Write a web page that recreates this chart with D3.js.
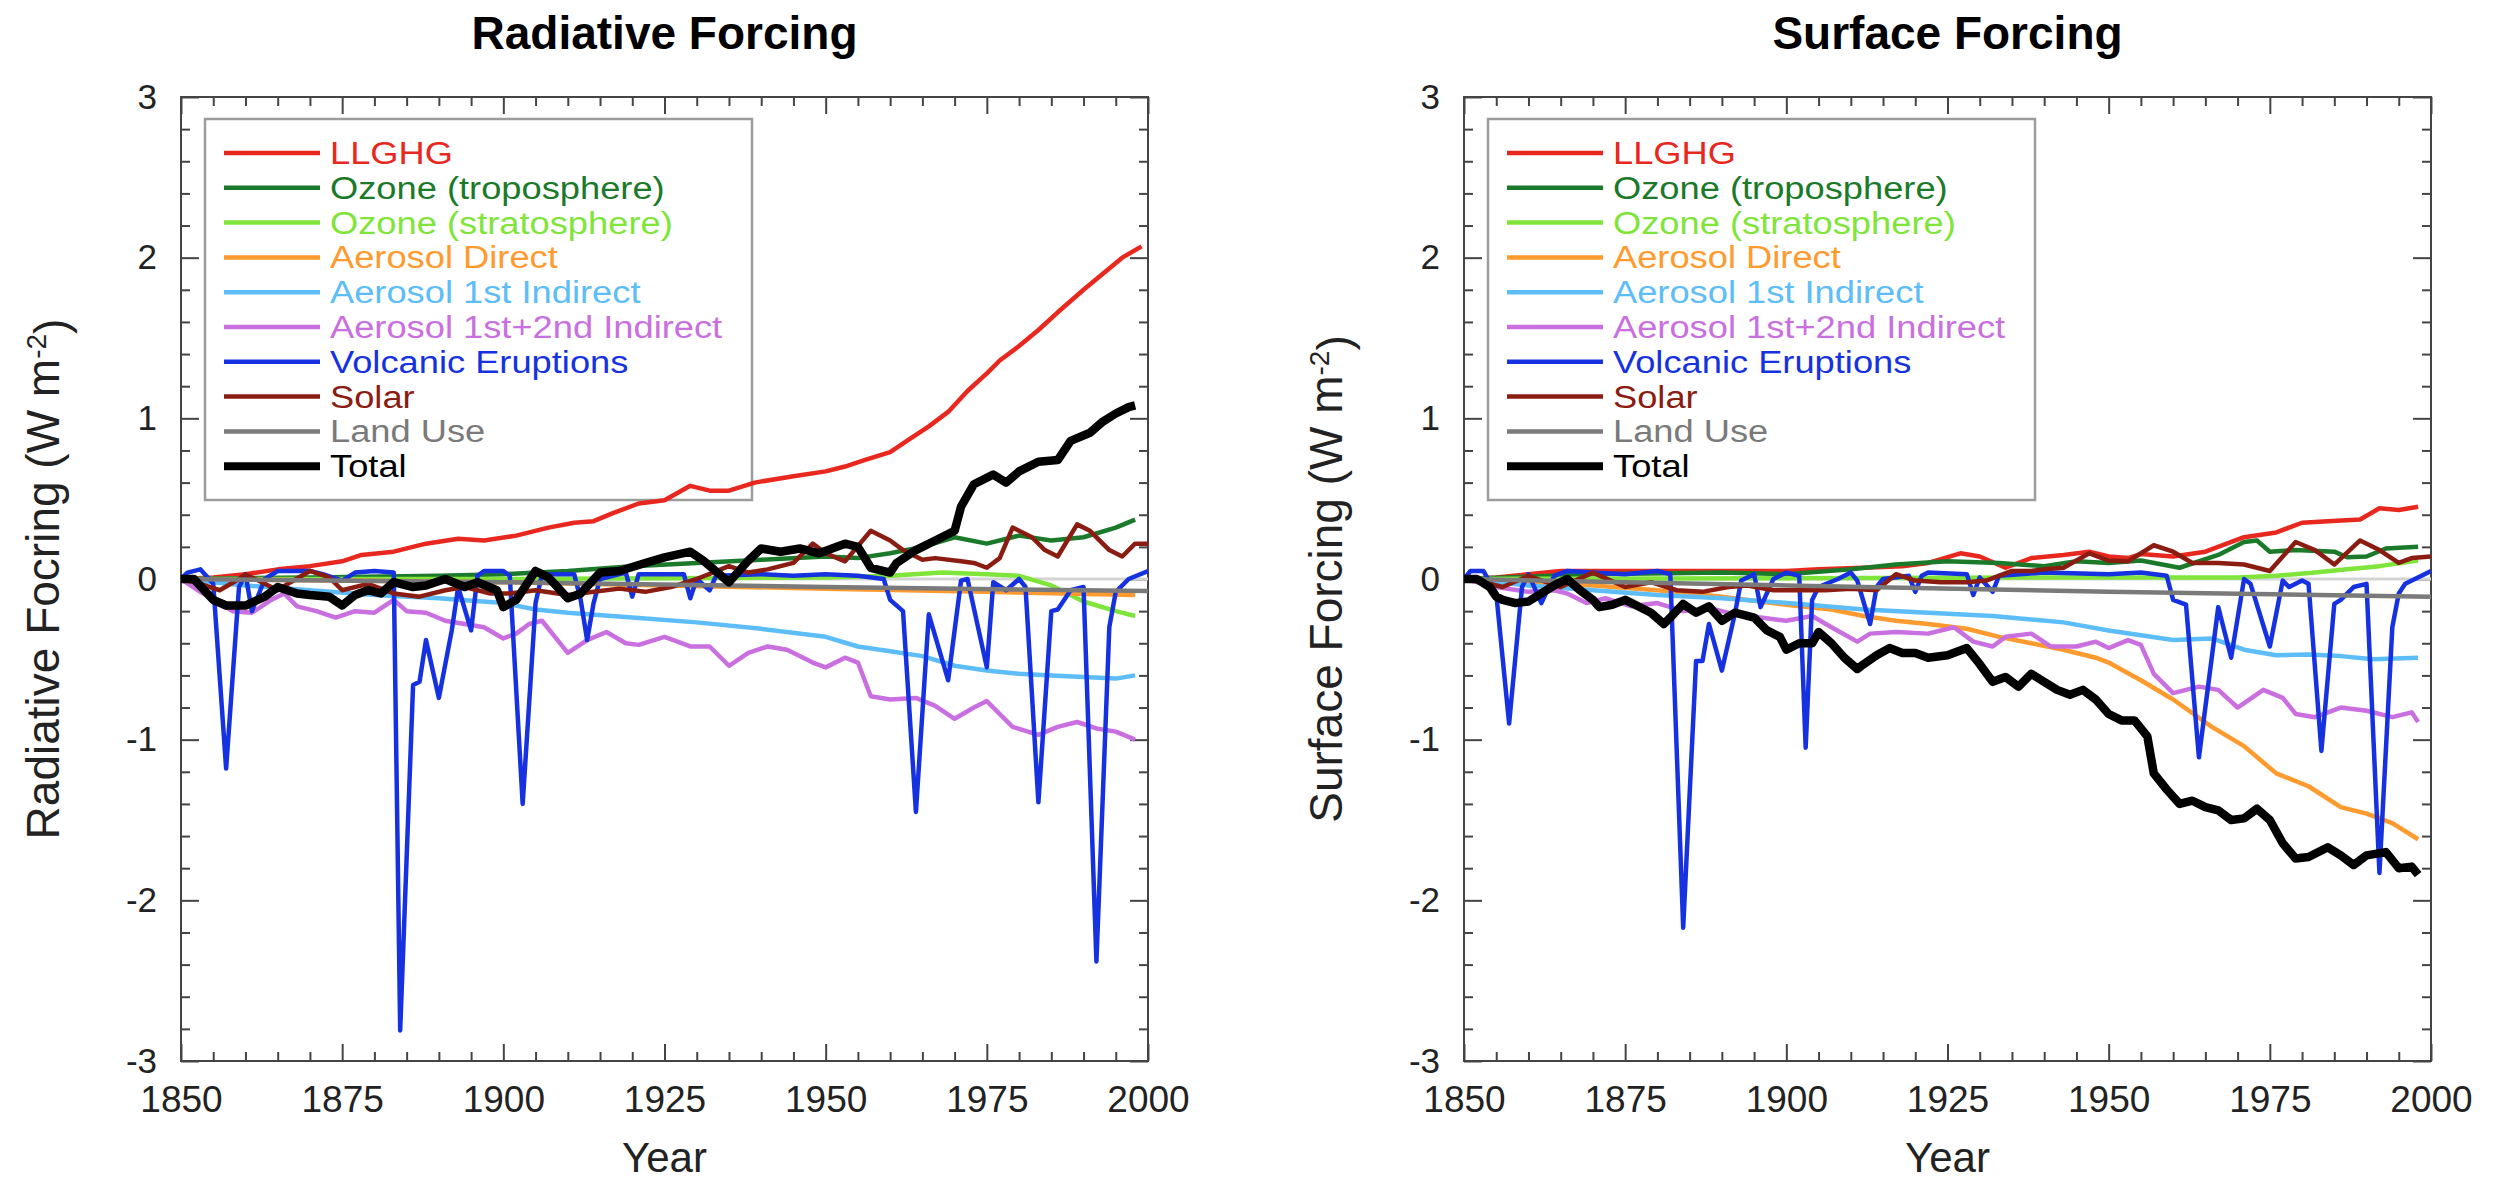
<!DOCTYPE html>
<html>
<head>
<meta charset="utf-8">
<script src="https://cdn.jsdelivr.net/npm/d3@7"></script>
<style>
  body { margin: 0; background: #fff; }
  svg { display: block; font-family: "Liberation Sans", Arial, Helvetica, sans-serif; }
</style>
</head>
<body>
<svg id="chart"></svg>
<script>
// legend labels + colours (same for both panels)
const labels = ["LLGHG", "Ozone (troposphere)", "Ozone (stratosphere)", "Aerosol Direct",
  "Aerosol 1st Indirect", "Aerosol 1st+2nd Indirect", "Volcanic Eruptions", "Solar", "Land Use", "Total"];
const colors = ["#e8281e", "#1b7a2a", "#80e53a", "#ff9a2e", "#5dbdf8", "#c96fe0", "#1632e0", "#8b1c12", "#7a7a7a", "#000000"];

const xTicks = [1850, 1875, 1900, 1925, 1950, 1975, 2000];
const yTicks = [-3, -2, -1, 0, 1, 2, 3];

// ---- Radiative forcing [year, W m-2] ----
const rfLLGHG = [[1850,0],[1855,0.01],[1860,0.03],[1865,0.06],[1870,0.08],[1875,0.11],[1878,0.15],[1883,0.17],[1888,0.22],[1893,0.25],[1897,0.24],[1902,0.27],[1907,0.32],[1911,0.35],[1914,0.36],[1917,0.41],[1921,0.47],[1925,0.49],[1929,0.58],[1932,0.55],[1935,0.55],[1939,0.60],[1945,0.64],[1950,0.67],[1953,0.70],[1956,0.74],[1960,0.79],[1963,0.87],[1966,0.95],[1969,1.04],[1972,1.17],[1975,1.28],[1977,1.36],[1980,1.45],[1983,1.55],[1986,1.66],[1990,1.80],[1993,1.90],[1996,2.00],[1999,2.07]];
const rfOzoneTrop = [[1850,0],[1870,0.01],[1890,0.02],[1900,0.03],[1910,0.05],[1920,0.08],[1930,0.10],[1940,0.12],[1950,0.14],[1955,0.13],[1960,0.16],[1965,0.20],[1970,0.26],[1975,0.22],[1980,0.27],[1985,0.24],[1990,0.26],[1995,0.32],[1998,0.37]];
const rfOzoneStrat = [[1850,0],[1900,0],[1950,0.01],[1960,0.02],[1968,0.04],[1975,0.03],[1980,0.02],[1985,-0.04],[1990,-0.14],[1995,-0.20],[1998,-0.23]];
const rfAeroDirect = [[1850,0],[1875,-0.01],[1900,-0.02],[1925,-0.04],[1950,-0.06],[1975,-0.08],[1998,-0.10]];
const rfAero1st = [[1850,0],[1860,-0.04],[1870,-0.07],[1880,-0.10],[1890,-0.12],[1900,-0.15],[1905,-0.19],[1910,-0.21],[1920,-0.24],[1930,-0.27],[1940,-0.31],[1950,-0.36],[1955,-0.42],[1960,-0.45],[1965,-0.48],[1970,-0.54],[1975,-0.57],[1980,-0.59],[1985,-0.60],[1990,-0.61],[1995,-0.62],[1998,-0.60]];
const rfAero12 = [[1850,0],[1853,-0.08],[1858,-0.20],[1861,-0.21],[1864,-0.13],[1866,-0.09],[1868,-0.17],[1871,-0.20],[1874,-0.24],[1877,-0.20],[1880,-0.21],[1883,-0.13],[1885,-0.20],[1888,-0.21],[1891,-0.26],[1894,-0.28],[1897,-0.30],[1900,-0.37],[1902,-0.34],[1904,-0.28],[1906,-0.26],[1908,-0.36],[1910,-0.46],[1913,-0.38],[1916,-0.33],[1919,-0.40],[1921,-0.41],[1925,-0.36],[1929,-0.42],[1932,-0.42],[1935,-0.54],[1938,-0.46],[1941,-0.42],[1944,-0.44],[1948,-0.52],[1950,-0.55],[1953,-0.49],[1955,-0.52],[1957,-0.73],[1960,-0.75],[1964,-0.74],[1967,-0.79],[1970,-0.87],[1973,-0.80],[1975,-0.76],[1979,-0.92],[1983,-0.97],[1986,-0.92],[1989,-0.89],[1992,-0.93],[1995,-0.95],[1998,-1.00]];
const rfVolcanic = [[1850,0],[1851,0.04],[1853,0.06],[1855,-0.03],[1857,-1.18],[1859,-0.05],[1860,0.03],[1861,-0.20],[1863,0.0],[1865,0.05],[1870,0.05],[1872,0.03],[1875,-0.01],[1877,0.04],[1880,0.05],[1883,0.04],[1884,-2.81],[1886,-0.66],[1887,-0.64],[1888,-0.38],[1890,-0.74],[1892,-0.32],[1893,-0.05],[1895,-0.32],[1896,0.02],[1897,0.05],[1900,0.05],[1901,0.02],[1903,-1.40],[1905,-0.15],[1906,0.03],[1911,0.03],[1912,-0.13],[1913,-0.38],[1914,-0.15],[1915,0.0],[1919,0.04],[1920,-0.11],[1921,0.03],[1928,0.03],[1929,-0.12],[1930,0.0],[1932,-0.07],[1933,0.02],[1940,0.03],[1945,0.02],[1950,0.03],[1955,0.02],[1959,0.0],[1960,-0.13],[1962,-0.20],[1964,-1.45],[1966,-0.22],[1969,-0.63],[1971,-0.01],[1972,0.0],[1975,-0.55],[1976,-0.02],[1978,-0.07],[1980,0.0],[1981,-0.05],[1983,-1.39],[1985,-0.20],[1986,-0.19],[1988,-0.07],[1990,-0.05],[1992,-2.38],[1994,-0.30],[1995,-0.08],[1997,0.0],[2000,0.05]];
const rfSolar = [[1850,0],[1853,-0.03],[1856,-0.07],[1859,0.0],[1860,0.03],[1862,-0.01],[1865,-0.07],[1867,-0.02],[1870,0.05],[1873,0.01],[1875,-0.07],[1879,-0.03],[1883,-0.09],[1887,-0.11],[1891,-0.07],[1894,-0.05],[1898,-0.09],[1901,-0.09],[1905,-0.07],[1910,-0.10],[1914,-0.08],[1918,-0.06],[1922,-0.08],[1926,-0.05],[1930,0.0],[1935,0.08],[1938,0.04],[1941,0.06],[1945,0.10],[1948,0.22],[1950,0.16],[1953,0.11],[1957,0.30],[1960,0.24],[1962,0.18],[1965,0.12],[1967,0.13],[1971,0.11],[1973,0.10],[1975,0.07],[1977,0.13],[1979,0.32],[1982,0.26],[1984,0.18],[1986,0.14],[1989,0.34],[1991,0.30],[1994,0.18],[1996,0.14],[1998,0.22],[2000,0.22]];
const rfLandUse = [[1850,0],[1900,-0.02],[1950,-0.05],[2000,-0.075]];
const rfTotal = [[1850,0],[1852,0],[1855,-0.13],[1857,-0.165],[1860,-0.165],[1863,-0.11],[1865,-0.05],[1868,-0.09],[1870,-0.10],[1873,-0.11],[1875,-0.165],[1877,-0.10],[1879,-0.07],[1881,-0.09],[1883,-0.02],[1886,-0.05],[1888,-0.04],[1891,0.0],[1894,-0.05],[1896,-0.02],[1899,-0.07],[1900,-0.175],[1902,-0.13],[1905,0.05],[1907,0.01],[1910,-0.12],[1912,-0.09],[1915,0.04],[1918,0.05],[1922,0.10],[1925,0.135],[1929,0.17],[1931,0.115],[1935,-0.02],[1938,0.115],[1940,0.19],[1943,0.17],[1946,0.19],[1949,0.16],[1953,0.22],[1955,0.20],[1957,0.07],[1960,0.04],[1961,0.10],[1964,0.18],[1967,0.24],[1970,0.30],[1971,0.45],[1973,0.59],[1976,0.65],[1978,0.60],[1980,0.67],[1983,0.73],[1986,0.74],[1988,0.86],[1991,0.91],[1993,0.98],[1995,1.03],[1997,1.07],[1998,1.08]];

// ---- Surface forcing [year, W m-2] ----
const sfLLGHG = [[1850,0],[1855,0.01],[1860,0.03],[1865,0.05],[1870,0.05],[1880,0.05],[1890,0.05],[1900,0.05],[1905,0.06],[1912,0.07],[1918,0.08],[1922,0.10],[1927,0.16],[1930,0.14],[1934,0.07],[1938,0.13],[1943,0.15],[1947,0.17],[1950,0.14],[1953,0.13],[1955,0.155],[1960,0.14],[1965,0.17],[1971,0.26],[1976,0.29],[1980,0.35],[1984,0.36],[1989,0.37],[1992,0.44],[1995,0.43],[1998,0.45]];
const sfOzoneTrop = [[1850,0],[1870,0.03],[1890,0.04],[1900,0.03],[1910,0.06],[1917,0.09],[1925,0.11],[1933,0.10],[1940,0.08],[1945,0.11],[1950,0.10],[1955,0.115],[1961,0.07],[1967,0.15],[1971,0.23],[1973,0.24],[1975,0.17],[1979,0.18],[1985,0.17],[1987,0.135],[1990,0.14],[1993,0.19],[1998,0.20]];
const sfOzoneStrat = [[1850,0],[1950,0.01],[1970,0.01],[1976,0.02],[1982,0.04],[1987,0.06],[1992,0.08],[1998,0.115]];
const sfAeroDirect = [[1850,0],[1860,-0.02],[1870,-0.04],[1880,-0.07],[1890,-0.11],[1900,-0.16],[1907,-0.19],[1912,-0.23],[1917,-0.26],[1922,-0.28],[1928,-0.31],[1933,-0.36],[1938,-0.40],[1943,-0.44],[1948,-0.49],[1950,-0.52],[1955,-0.63],[1960,-0.75],[1966,-0.92],[1971,-1.04],[1976,-1.21],[1981,-1.29],[1986,-1.42],[1990,-1.46],[1994,-1.52],[1998,-1.62]];
const sfAero1st = [[1850,0],[1860,-0.04],[1870,-0.07],[1880,-0.10],[1890,-0.12],[1902,-0.155],[1912,-0.19],[1922,-0.21],[1932,-0.23],[1943,-0.27],[1950,-0.32],[1960,-0.38],[1966,-0.37],[1971,-0.44],[1976,-0.475],[1981,-0.47],[1986,-0.48],[1991,-0.50],[1998,-0.49]];
const sfAero12 = [[1850,0],[1855,-0.05],[1860,-0.08],[1864,-0.07],[1866,-0.09],[1869,-0.15],[1872,-0.12],[1876,-0.17],[1880,-0.15],[1884,-0.20],[1888,-0.18],[1892,-0.22],[1896,-0.24],[1900,-0.26],[1904,-0.23],[1907,-0.30],[1911,-0.39],[1913,-0.34],[1917,-0.33],[1922,-0.34],[1926,-0.30],[1929,-0.39],[1932,-0.42],[1934,-0.36],[1938,-0.34],[1941,-0.42],[1945,-0.42],[1948,-0.39],[1950,-0.43],[1953,-0.38],[1955,-0.41],[1957,-0.59],[1960,-0.71],[1964,-0.67],[1967,-0.69],[1970,-0.80],[1974,-0.69],[1977,-0.74],[1979,-0.84],[1982,-0.86],[1986,-0.80],[1990,-0.82],[1994,-0.86],[1997,-0.83],[1998,-0.89]];
const sfVolcanic = [[1850,0],[1851,0.05],[1853,0.05],[1855,-0.09],[1857,-0.90],[1859,-0.05],[1860,0.03],[1862,-0.15],[1864,0.02],[1866,0.05],[1870,0.04],[1875,0.03],[1880,0.05],[1882,0.03],[1884,-2.17],[1886,-0.51],[1887,-0.51],[1888,-0.28],[1890,-0.57],[1892,-0.22],[1893,-0.01],[1895,0.03],[1896,-0.175],[1898,0.0],[1900,0.04],[1902,0.02],[1903,-1.05],[1904,-0.13],[1905,-0.05],[1908,0.0],[1910,0.04],[1911,-0.01],[1913,-0.28],[1914,-0.05],[1915,0.0],[1919,0.02],[1920,-0.08],[1921,0.02],[1922,0.04],[1928,0.03],[1929,-0.10],[1930,0.01],[1932,-0.08],[1933,0.02],[1940,0.04],[1950,0.03],[1955,0.04],[1959,0.02],[1960,-0.13],[1962,-0.16],[1964,-1.11],[1967,-0.175],[1969,-0.49],[1971,0.0],[1972,-0.03],[1975,-0.42],[1977,-0.01],[1978,-0.05],[1980,-0.01],[1981,-0.03],[1983,-1.07],[1985,-0.155],[1986,-0.13],[1988,-0.05],[1990,-0.03],[1992,-1.83],[1994,-0.30],[1995,-0.09],[1996,-0.03],[1999,0.03],[2000,0.05]];
const sfSolar = [[1850,0],[1853,-0.02],[1856,-0.05],[1860,0.02],[1865,-0.05],[1870,0.04],[1875,-0.05],[1879,-0.02],[1883,-0.07],[1887,-0.08],[1891,-0.05],[1894,-0.04],[1898,-0.07],[1902,-0.07],[1906,-0.07],[1910,-0.06],[1914,-0.07],[1917,0.03],[1920,-0.01],[1924,-0.02],[1928,-0.02],[1931,-0.01],[1935,0.05],[1938,0.05],[1940,0.06],[1943,0.07],[1947,0.16],[1950,0.115],[1953,0.11],[1957,0.21],[1960,0.17],[1963,0.10],[1967,0.10],[1971,0.09],[1975,0.05],[1979,0.23],[1982,0.18],[1985,0.09],[1989,0.24],[1992,0.18],[1995,0.10],[1997,0.13],[2000,0.14]];
const sfLandUse = [[1850,0],[1900,-0.04],[1950,-0.08],[2000,-0.11]];
const sfTotal = [[1850,0],[1852,0],[1854,-0.05],[1855,-0.11],[1856,-0.13],[1858,-0.15],[1860,-0.14],[1862,-0.09],[1864,-0.04],[1866,0.0],[1868,-0.07],[1870,-0.13],[1871,-0.175],[1873,-0.16],[1875,-0.13],[1877,-0.17],[1879,-0.21],[1881,-0.28],[1882,-0.24],[1884,-0.155],[1886,-0.21],[1888,-0.17],[1890,-0.26],[1892,-0.21],[1895,-0.24],[1897,-0.32],[1899,-0.36],[1900,-0.44],[1902,-0.40],[1904,-0.40],[1905,-0.33],[1907,-0.40],[1909,-0.49],[1911,-0.56],[1912,-0.53],[1914,-0.475],[1916,-0.43],[1918,-0.46],[1920,-0.46],[1922,-0.49],[1925,-0.475],[1928,-0.43],[1930,-0.53],[1932,-0.64],[1934,-0.61],[1936,-0.67],[1938,-0.59],[1940,-0.64],[1942,-0.69],[1944,-0.72],[1946,-0.69],[1948,-0.75],[1950,-0.84],[1952,-0.88],[1954,-0.88],[1956,-0.98],[1957,-1.21],[1959,-1.31],[1961,-1.40],[1963,-1.38],[1965,-1.42],[1967,-1.44],[1969,-1.50],[1971,-1.49],[1973,-1.43],[1975,-1.50],[1977,-1.645],[1979,-1.74],[1981,-1.73],[1984,-1.67],[1986,-1.72],[1988,-1.78],[1990,-1.72],[1993,-1.70],[1995,-1.80],[1997,-1.79],[1998,-1.84]];

const W = 2501, H = 1183;
const plotTop = 97, plotBottom = 1061, plotW = 967;

const panels = [
  { title: "Radiative Forcing", ylab: "Radiative Focring", left: 181,
    series: [rfLLGHG, rfOzoneTrop, rfOzoneStrat, rfAeroDirect, rfAero1st, rfAero12, rfVolcanic, rfSolar, rfLandUse, rfTotal] },
  { title: "Surface Forcing", ylab: "Surface Forcing", left: 1464,
    series: [sfLLGHG, sfOzoneTrop, sfOzoneStrat, sfAeroDirect, sfAero1st, sfAero12, sfVolcanic, sfSolar, sfLandUse, sfTotal] }
];

const svg = d3.select("#chart").attr("width", W).attr("height", H);
svg.append("rect").attr("width", W).attr("height", H).attr("fill", "#fff");

const x = d3.scaleLinear().domain([1850, 2000]).range([0, plotW]);
const y = d3.scaleLinear().domain([-3, 3]).range([plotBottom, plotTop]);

panels.forEach(function(p, pi) {
  const g = svg.append("g").attr("transform", `translate(${p.left},0)`);

  // title
  g.append("text")
    .attr("x", plotW / 2).attr("y", 49)
    .attr("text-anchor", "middle")
    .style("font-size", "46px").style("font-weight", "bold")
    .text(p.title);

  // axes: minor + major ticks, all pointing in
  const minorX = d3.range(1850, 2001, 5).filter(d => d % 25 !== 0);
  const minorY = d3.range(-30, 31, 2).map(d => d / 10).filter(d => !Number.isInteger(d));

  function styleAxis(sel) {
    sel.select(".domain").remove();
    sel.selectAll("line").attr("stroke", "#444").attr("stroke-width", 2);
    sel.selectAll("text").attr("fill", "#222");
  }

  g.append("g").attr("transform", `translate(0,${plotBottom})`)
    .call(d3.axisBottom(x).tickValues(minorX).tickSize(-9).tickFormat(""))
    .call(styleAxis);
  g.append("g").attr("transform", `translate(0,${plotBottom})`)
    .call(d3.axisBottom(x).tickValues(xTicks).tickSize(-17).tickPadding(25).tickFormat(d3.format("d")))
    .call(styleAxis)
    .selectAll("text").style("font-size", "37px").style("font-family", null);
  g.append("g").attr("transform", `translate(0,${plotTop})`)
    .call(d3.axisTop(x).tickValues(minorX).tickSize(-9).tickFormat(""))
    .call(styleAxis);
  g.append("g").attr("transform", `translate(0,${plotTop})`)
    .call(d3.axisTop(x).tickValues(xTicks).tickSize(-17).tickFormat(""))
    .call(styleAxis);

  g.append("g")
    .call(d3.axisLeft(y).tickValues(minorY).tickSize(-9).tickFormat(""))
    .call(styleAxis);
  g.append("g")
    .call(d3.axisLeft(y).tickValues(yTicks).tickSize(-18).tickPadding(24).tickFormat(d => String(d)))
    .call(styleAxis)
    .selectAll("text").style("font-size", "35px").style("font-family", null);
  g.append("g").attr("transform", `translate(${plotW},0)`)
    .call(d3.axisRight(y).tickValues(minorY).tickSize(-9).tickFormat(""))
    .call(styleAxis);
  g.append("g").attr("transform", `translate(${plotW},0)`)
    .call(d3.axisRight(y).tickValues(yTicks).tickSize(-18).tickFormat(""))
    .call(styleAxis);

  // frame
  g.append("rect")
    .attr("x", 0).attr("y", plotTop)
    .attr("width", plotW).attr("height", plotBottom - plotTop)
    .attr("fill", "none").attr("stroke", "#444").attr("stroke-width", 2);

  // axis titles
  g.append("text")
    .attr("x", plotW / 2).attr("y", 1172)
    .attr("text-anchor", "middle")
    .style("font-size", "42px").attr("fill", "#222")
    .text("Year");

  const yl = g.append("text")
    .attr("transform", `translate(-139,${(plotTop + plotBottom) / 2}) rotate(-90)`)
    .attr("text-anchor", "middle").attr("dy", "0.36em")
    .style("font-size", "46px").attr("fill", "#222");
  yl.append("tspan").text(p.ylab + " (W m");
  yl.append("tspan").attr("dy", "-0.45em").style("font-size", "28px").text("-2");
  yl.append("tspan").attr("dy", "0.45em").text(")");

  // legend box
  const lg = g.append("g").attr("transform", "translate(24,119)");
  lg.append("rect").attr("width", 547).attr("height", 381)
    .attr("fill", "none").attr("stroke", "#9c9c9c").attr("stroke-width", 2.5);
  const rowY = i => 34 + i * 34.8;
  labels.forEach(function(lab, i) {
    lg.append("line")
      .attr("x1", 19).attr("x2", 115).attr("y1", rowY(i)).attr("y2", rowY(i))
      .attr("stroke", colors[i]).attr("stroke-width", i === 9 ? 8 : 4.5);
    // rows are tight, so keep the em box under the row pitch and widen the glyphs a bit
    const t = lg.append("text")
      .attr("x", 125).attr("y", rowY(i) + 11)
      .style("font-size", "31px").attr("fill", colors[i])
      .text(lab);
    const w = t.node().getComputedTextLength();
    t.attr("textLength", w * 1.17).attr("lengthAdjust", "spacingAndGlyphs");
  });

  // clip + zero line + series
  const clipId = "clip" + pi;
  g.append("clipPath").attr("id", clipId)
    .append("rect").attr("x", 0).attr("y", plotTop).attr("width", plotW).attr("height", plotBottom - plotTop);
  const plot = g.append("g").attr("clip-path", `url(#${clipId})`);

  plot.append("line")
    .attr("x1", 0).attr("x2", plotW).attr("y1", y(0)).attr("y2", y(0))
    .attr("stroke", "#d4d4d4").attr("stroke-width", 3);

  const line = d3.line().x(d => x(d[0])).y(d => y(d[1]));
  p.series.forEach(function(s, i) {
    plot.append("path")
      .datum(s)
      .attr("d", line)
      .attr("fill", "none")
      .attr("stroke", colors[i])
      .attr("stroke-width", i === 9 ? 8.5 : 4.5)
      .attr("stroke-linejoin", "round");
  });
});
</script>
</body>
</html>
